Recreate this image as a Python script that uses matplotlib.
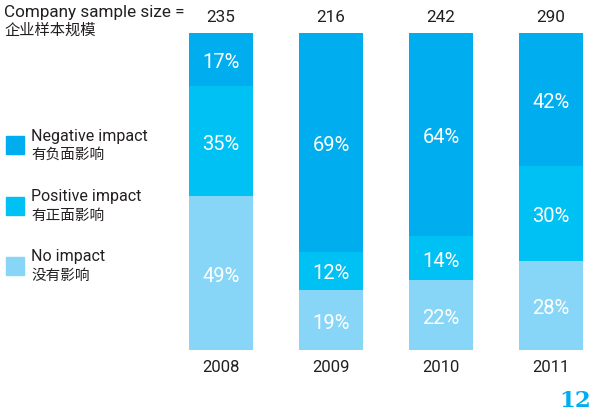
import matplotlib
matplotlib.use("Agg")
import matplotlib.pyplot as plt
import numpy as np

plt.rcParams['font.family'] = ['Roboto', 'Noto Sans CJK SC', 'DejaVu Sans']

# data
years = ['2008', '2009', '2010', '2011']
sample_size = [235, 216, 242, 290]
no_impact = np.array([49, 19, 22, 28])
positive = np.array([35, 12, 14, 30])
negative = np.array([17, 69, 64, 42])

series_en = ['Negative impact', 'Positive impact', 'No impact']
series_cn = ['有负面影响', '有正面影响', '没有影响']

c_neg = '#00AEEF'
c_pos = '#00C1F3'
c_no = '#88D6F7'
txt = '#231F20'

fig = plt.figure(figsize=(5.9, 4.17), dpi=100)
W, H = 590, 417

# axes placed in pixels: bar centre 0 at x=221.5, 110 px per bar step
L = 166
ax = fig.add_axes([L / W, (H - 350) / H, (W - L) / W, 317 / H])
ax.set_xlim(-0.5, -0.5 + (W - L) / 110)
ax.set_ylim(0, 100)
ax.axis('off')

x = np.arange(len(years))
tot = no_impact + positive + negative
s_no = no_impact / tot * 100
s_pos = positive / tot * 100
s_neg = negative / tot * 100
w = 0.573

ax.bar(x, s_no, w, color=c_no)
ax.bar(x, s_pos, w, bottom=s_no, color=c_pos)
ax.bar(x, s_neg, w, bottom=s_no + s_pos, color=c_neg)

for i in range(len(years)):
    segs = [(s_no[i], 0, no_impact[i]),
            (s_pos[i], s_no[i], positive[i]),
            (s_neg[i], s_no[i] + s_pos[i], negative[i])]
    for h, b, v in segs:
        ax.text(x[i], b + h / 2 - 1, f'{v}%', ha='center', va='center',
                color='white', fontsize=14.5)
    ax.text(x[i], 104.8, str(sample_size[i]), ha='center', va='center',
            color=txt, fontsize=12.3)
    ax.text(x[i], -5.5, years[i], ha='center', va='center',
            color=txt, fontsize=12)

# header on the left
fig.text(4 / W, 1 - 13 / H, 'Company sample size =', ha='left', va='center',
         color=txt, fontsize=12.3)
fig.text(4 / W, 1 - 31 / H, '企业样本规模', ha='left', va='center',
         color=txt, fontsize=11)

# legend drawn by hand
leg_y = [145, 206, 266]
for yy, col, en, cn in zip(leg_y, [c_neg, c_pos, c_no], series_en, series_cn):
    fig.patches.append(plt.Rectangle((6 / W, 1 - (yy + 9) / H), 18 / W, 18 / H,
                                     transform=fig.transFigure, color=col))
    fig.text(31 / W, 1 - (yy - 9) / H, en, ha='left', va='center',
             color=txt, fontsize=11.5)
    fig.text(31 / W, 1 - (yy + 10) / H, cn, ha='left', va='center',
             color=txt, fontsize=10.5)

fig.text(575 / W, 1 - 401 / H, '12', ha='center', va='center',
         color='#00AEEF', fontsize=16.5, fontweight='bold', family='DejaVu Serif')

fig.savefig('out.png', dpi=100)
